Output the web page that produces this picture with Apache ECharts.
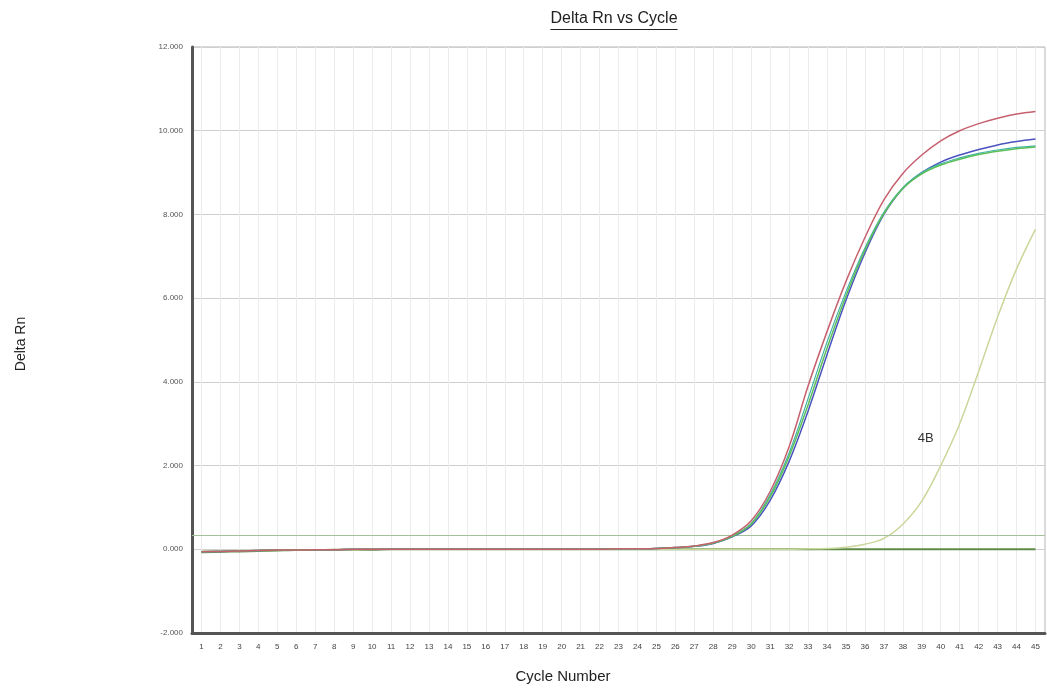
<!DOCTYPE html>
<html>
<head>
<meta charset="utf-8">
<style>
  html, body { margin: 0; padding: 0; background: #fff; }
  #chart { width: 1047px; height: 697px; }
</style>
<script src="https://cdn.jsdelivr.net/npm/echarts@6/dist/echarts.min.js"></script>
</head>
<body>
<div id="chart"></div>
<script>
// Amplification plot: Delta Rn per PCR cycle
const cycles = ['1','2','3','4','5','6','7','8','9','10','11','12','13','14','15','16','17','18','19','20','21','22','23','24','25','26','27','28','29','30','31','32','33','34','35','36','37','38','39','40','41','42','43','44','45'];

const yTicks = [-2, 0, 2, 4, 6, 8, 10, 12];

const wellRed = [-0.06,-0.05,-0.04,-0.03,-0.02,-0.02,-0.01,-0.01,0,0,0,0,0,0,0,0,0,0,0,0,0,0,0.01,0.01,0.02,0.04,0.08,0.16,0.34,0.68,1.38,2.45,3.9,5.2,6.4,7.45,8.35,8.98,9.42,9.76,10.0,10.17,10.3,10.4,10.46];
const wellTeal = [-0.06,-0.05,-0.04,-0.03,-0.02,-0.02,-0.01,-0.01,0,0,0,0,0,0,0,0,0,0,0,0,0,0,0.01,0.01,0.02,0.04,0.07,0.15,0.32,0.62,1.3,2.3,3.6,4.95,6.15,7.2,8.05,8.64,9.0,9.21,9.35,9.46,9.54,9.6,9.64];
const wellGreen = [-0.06,-0.05,-0.04,-0.03,-0.02,-0.02,-0.01,-0.01,0,0,0,0,0,0,0,0,0,0,0,0,0,0,0.01,0.01,0.02,0.04,0.07,0.15,0.31,0.6,1.25,2.22,3.45,4.8,6.05,7.15,8.02,8.62,8.97,9.18,9.32,9.43,9.51,9.57,9.61];
const wellBlue = [-0.06,-0.05,-0.04,-0.03,-0.02,-0.02,-0.01,-0.01,0,0,0,0,0,0,0,0,0,0,0,0,0,0,0.01,0.01,0.02,0.04,0.07,0.14,0.3,0.56,1.17,2.1,3.3,4.65,5.95,7.08,8.0,8.62,9.0,9.25,9.42,9.55,9.66,9.74,9.8];
const well4B = [-0.04,-0.04,-0.03,-0.03,-0.02,-0.02,-0.01,-0.01,-0.01,0,0,0,0,0,0,0,0,0,0,0,0,0,0,0,0,0,0,0,0,0,0,0,0.01,0.02,0.05,0.12,0.26,0.6,1.15,2.0,3.0,4.25,5.55,6.7,7.65];
const wellNtc = [-0.07,-0.06,-0.05,-0.04,-0.03,-0.02,-0.02,-0.01,-0.01,-0.01,0,0,0,0,0,0,0,0,0,0,0,0,0,0,0,0,0,0,0,0,0,0,0,0,0,0,0,0,0,0,0,0,0,0,0];
const threshold = 0.335;

const FONT = 'Arial, "Liberation Sans", sans-serif';
const titleText = 'Delta Rn vs Cycle';
const titleSize = 16;

// width of the title, for its underline
const measureCtx = document.createElement('canvas').getContext('2d');
measureCtx.font = titleSize + 'px ' + FONT;
const titleWidth = measureCtx.measureText(titleText).width;
const titleX = 614;

const chart = echarts.init(document.getElementById('chart'), null, { renderer: 'canvas' });

function curve(name, data, color, width, z) {
  return {
    name: name, type: 'line', data: data, smooth: 0.35, symbol: 'none', z: z,
    lineStyle: { color: color, width: width }
  };
}

const series = [
  curve('NTC', wellNtc, '#5d8a45', 2, 3),
  curve('4B', well4B, '#c9d79a', 1.5, 4),
  curve('Blue', wellBlue, '#4c52c0', 1.5, 5),
  curve('Green', wellGreen, '#5cbf5a', 1.5, 6),
  curve('Teal', wellTeal, '#3fb3a6', 1.2, 5),
  curve('Red', wellRed, '#c7606e', 1.5, 7)
];

// 4B annotation attached to its curve
series[1].markPoint = {
  symbol: 'circle', symbolSize: 0, silent: true,
  data: [{ coord: ['39', 2.65], value: '4B' }],
  label: { show: true, position: 'inside', offset: [4, 0], formatter: '4B', color: '#333', fontSize: 13, fontFamily: FONT }
};

// threshold line
series[0].markLine = {
  symbol: 'none', silent: true, label: { show: false },
  lineStyle: { color: '#a3c09c', width: 1.2, type: 'solid' },
  data: [{ yAxis: threshold }]
};

chart.setOption({
  animation: false,
  backgroundColor: '#fff',
  graphic: [
    { type: 'text', x: titleX, y: 11, style: { text: titleText, fill: '#222', font: titleSize + 'px ' + FONT, textAlign: 'center', textVerticalAlign: 'top' } },
    { type: 'line', shape: { x1: titleX - titleWidth / 2, y1: 29.5, x2: titleX + titleWidth / 2, y2: 29.5 }, style: { stroke: '#222', lineWidth: 1 } },
    { type: 'text', x: 563, y: 677, style: { text: 'Cycle Number', fill: '#222', font: '15px ' + FONT, textAlign: 'center', textVerticalAlign: 'middle' } },
    { type: 'text', x: 21, y: 344, rotation: Math.PI / 2, style: { text: 'Delta Rn', fill: '#222', font: '14px ' + FONT, textAlign: 'center', textVerticalAlign: 'middle' } }
  ],
  grid: { left: 192, right: 2, top: 47, bottom: 64, show: true, borderColor: '#b5b5b5', borderWidth: 1 },
  xAxis: {
    type: 'category', data: cycles, boundaryGap: true,
    axisLine: { onZero: false, lineStyle: { color: '#555', width: 3 } },
    axisTick: { show: false },
    axisLabel: { interval: 0, fontSize: 8, color: '#444', margin: 10, fontFamily: FONT },
    splitLine: { show: true, alignWithLabel: true, lineStyle: { color: '#ececec', width: 1 } }
  },
  yAxis: {
    type: 'value', min: yTicks[0], max: yTicks[yTicks.length - 1], interval: 2,
    axisLine: { show: true, lineStyle: { color: '#555', width: 3 } },
    axisTick: { show: false },
    axisLabel: { fontSize: 8, color: '#555', margin: 9, fontFamily: FONT,
      formatter: function (v) { return v.toFixed(3); } },
    splitLine: { show: true, lineStyle: { color: '#cfcfcf', width: 1.2 } }
  },
  series: series
});
</script>
</body>
</html>
